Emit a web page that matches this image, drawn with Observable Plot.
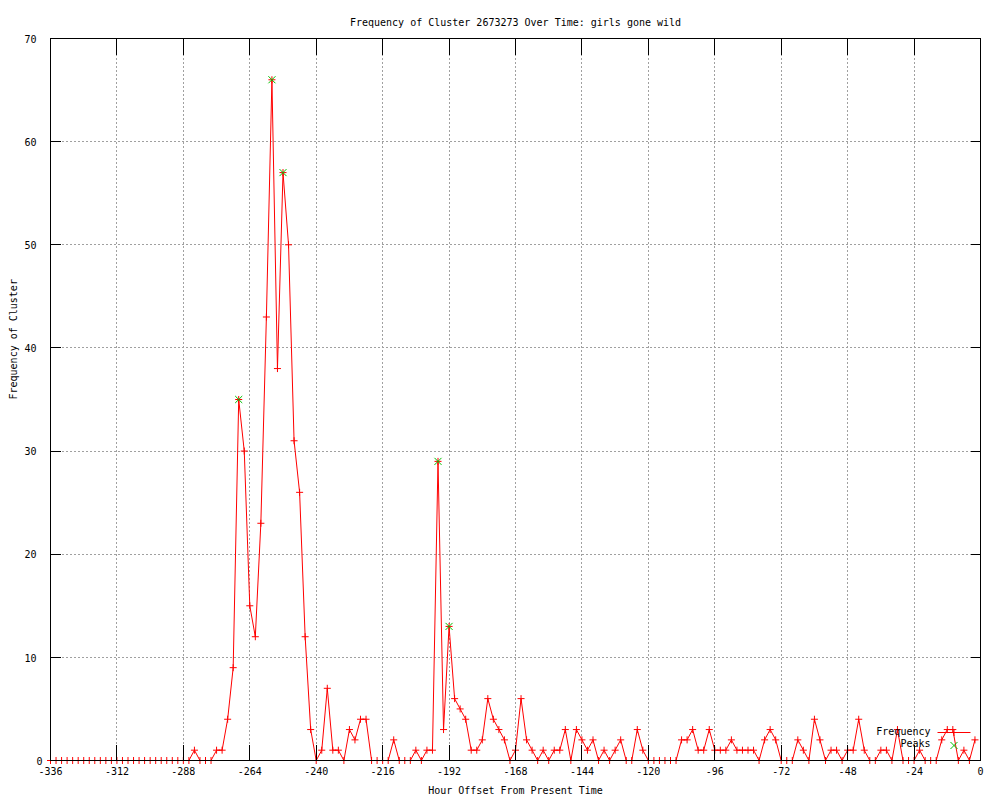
<!DOCTYPE html>
<html><head><meta charset="utf-8">
<script src="https://cdn.jsdelivr.net/npm/d3@7"></script>
<script src="https://cdn.jsdelivr.net/npm/@observablehq/plot@0.6"></script>
<style>body{margin:0;background:#fff;}</style>
</head><body><div id="chart"></div>
<script>
const title = "Frequency of Cluster 2673273 Over Time: girls gone wild";
const xLabel = "Hour Offset From Present Time";
const yLabel = "Frequency of Cluster";
const startHour = -336, stepHours = 2;
const frequency = [
  0,0,0,0,0,0,0,0,0,0,0,0,0,0,0,0,0,0,0,0,0,0,0,0,0,0,
  1,0,0,0,1,1,
  4,9,35,30,15,12,23,43,66,38,57,50,31,26,12,3,
  0,1,7,1,1,0,3,2,4,4,0,0,0,0,2,0,
  0,0,1,0,1,1,29,3,13,6,5,4,1,1,2,6,
  4,3,2,0,1,6,2,1,0,1,0,1,1,3,0,3,
  2,1,2,0,1,0,1,2,0,0,3,1,0,0,0,0,
  0,0,2,2,3,1,1,3,1,1,1,2,1,1,1,1,
  0,2,3,2,0,0,0,2,1,0,4,2,0,1,1,0,
  1,1,4,1,0,0,1,1,0,3,0,0,0,1,0,0,
  0,2,3,3,0,1,0,2
];
const peakHours = [-268, -256, -252, -196, -192];
const peakValues = [35, 66, 57, 29, 13];
const xTicks = [-336,-312,-288,-264,-240,-216,-192,-168,-144,-120,-96,-72,-48,-24,0];
const yTicks = [0,10,20,30,40,50,60,70];
const legendLabels = ["Frequency", "Peaks"];
const lineColor = "#ff0000", peakColor = "#00c000";

const series = frequency.map((v, i) => ({hour: startHour + stepHours * i, freq: v}));
const peaks = peakHours.map((h, i) => ({hour: h, freq: peakValues[i]}));
const xInner = xTicks.slice(1, -1);
const yInner = yTicks.slice(1, -1);

const tickUp = {draw(c) { c.moveTo(0, 0); c.lineTo(0, -16); }};
const tickDown = {draw(c) { c.moveTo(0, 0); c.lineTo(0, 16); }};
const tickRight = {draw(c) { c.moveTo(0, 0); c.lineTo(10, 0); }};
const tickLeft = {draw(c) { c.moveTo(0, 0); c.lineTo(-10, 0); }};
const legendLine = {draw(c) { c.moveTo(-16.5, 0); c.lineTo(16.5, 0); }};

const font = "DejaVu Sans Mono";
const tickStyle = {stroke: "black", fill: "none", strokeWidth: 1, shapeRendering: "crispEdges"};

const chart = Plot.plot({
  width: 1000,
  height: 800,
  marginLeft: 50,
  marginRight: 20,
  marginTop: 38,
  marginBottom: 40,
  style: {fontFamily: font, fontSize: "10px", background: "white", color: "black"},
  x: {domain: [-336, 0], axis: null},
  y: {domain: [0, 70], axis: null},
  marks: [
    Plot.ruleX(xInner, {x: d => d, stroke: "#a0a0a0", strokeDasharray: "2,2", shapeRendering: "crispEdges"}),
    Plot.ruleY(yInner, {y: d => d, stroke: "#a0a0a0", strokeDasharray: "2,2", shapeRendering: "crispEdges"}),
    Plot.line(series, {x: "hour", y: "freq", stroke: lineColor, strokeWidth: 1}),
    Plot.dot(series, {x: "hour", y: "freq", symbol: "plus", r: 2.4, stroke: lineColor, fill: "none", strokeWidth: 1}),
    Plot.dot(peaks, {x: "hour", y: "freq", symbol: "times", r: 3.3, stroke: peakColor, fill: "none", strokeWidth: 1}),
    Plot.frame({stroke: "black", shapeRendering: "crispEdges"}),
    Plot.dot(xTicks, {x: d => d, frameAnchor: "bottom", symbol: tickUp, ...tickStyle}),
    Plot.dot(xTicks, {x: d => d, frameAnchor: "top", symbol: tickDown, ...tickStyle}),
    Plot.dot(yTicks, {y: d => d, frameAnchor: "left", symbol: tickRight, ...tickStyle}),
    Plot.dot(yTicks, {y: d => d, frameAnchor: "right", symbol: tickLeft, ...tickStyle}),
    Plot.text(xTicks, {x: d => d, frameAnchor: "bottom", dy: 14, text: d => String(d), fontSize: 10, fill: "black"}),
    Plot.text(yTicks.filter(d => String(d).length === 1), {y: d => d, frameAnchor: "left", dx: -8, dy: 1, textAnchor: "end", text: d => String(d), fontSize: 10, fill: "black"}),
    Plot.text(yTicks.filter(d => String(d).length > 1), {y: d => d, frameAnchor: "left", dx: -14, dy: 1, textAnchor: "end", text: d => String(d), fontSize: 10, fill: "black"}),
    Plot.text([title], {frameAnchor: "top", dy: -20, text: d => d, fontSize: 10, fill: "black"}),
    Plot.text([xLabel], {frameAnchor: "bottom", dy: 33, text: d => d, fontSize: 10, fill: "black"}),
    Plot.text([yLabel], {frameAnchor: "left", dx: -37, rotate: -90, text: d => d, fontSize: 10, fill: "black"}),
    Plot.text([legendLabels[0]], {frameAnchor: "bottom-right", dx: -50, dy: -26, textAnchor: "end", text: d => d, fontSize: 10, fill: "black"}),
    Plot.dot([legendLabels[0]], {frameAnchor: "bottom-right", dx: -26.5, dy: -28, symbol: legendLine, stroke: lineColor, fill: "none", strokeWidth: 1}),
    Plot.dot([legendLabels[0]], {frameAnchor: "bottom-right", dx: -26.5, dy: -28, symbol: "plus", r: 2.4, stroke: lineColor, fill: "none", strokeWidth: 1}),
    Plot.text([legendLabels[1]], {frameAnchor: "bottom-right", dx: -50, dy: -14, textAnchor: "end", text: d => d, fontSize: 10, fill: "black"}),
    Plot.dot([legendLabels[1]], {frameAnchor: "bottom-right", dx: -26.5, dy: -15, symbol: "times", r: 3.3, stroke: peakColor, fill: "none", strokeWidth: 1})
  ]
});
document.getElementById("chart").appendChild(chart);
</script>
</body></html>
